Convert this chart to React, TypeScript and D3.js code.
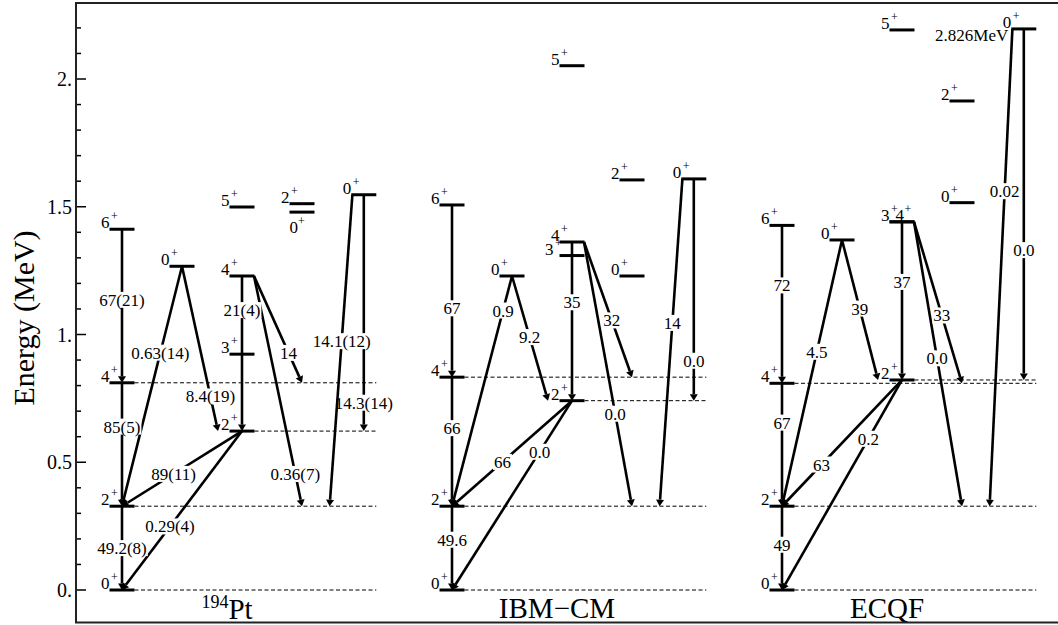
import React from 'react';
import * as d3 from 'd3';

const W = 1058;
const H = 625;

// ---- axis ----
const yMajorTicks = [0, 0.5, 1, 1.5, 2];
const yMajorLabels = ['0.', '0.5', '1.', '1.5', '2.'];
const yMinorTicks = [0.1, 0.2, 0.3, 0.4, 0.6, 0.7, 0.8, 0.9, 1.1, 1.2, 1.3, 1.4, 1.6, 1.7, 1.8, 1.9, 2.1, 2.2];
const yCap = 2.196; // off-scale levels are drawn here

// ---- levels (same structure in each panel) ----
const levelKeys = ['g0', 'g2', 'g4', 'g6', 'b0', 'c2', 'c3', 'c4', 'c5', 'd2', 'd0', 'e0'];
const levelSpins = ['0', '2', '4', '6', '0', '2', '3', '4', '5', '2', '0', '0'];
const levelCols = [0, 0, 0, 0, 1, 2, 2, 2, 2, 3, 3, 4.03];

const panelNames = ['194Pt', 'IBM−CM', 'ECQF'];
const expEnergies = [0, 0.328, 0.811, 1.412, 1.267, 0.622, 0.923, 1.229, 1.499, 1.512, 1.479, 1.547];
const ibmEnergies = [0, 0.328, 0.833, 1.507, 1.229, 0.741, 1.309, 1.362, 2.052, 1.605, 1.229, 1.609];
const ecqfEnergies = [0, 0.328, 0.809, 1.427, 1.37, 0.822, 1.441, 1.441, 2.192, 1.914, 1.516, 2.826];
const panelEnergies = [expEnergies, ibmEnergies, ecqfEnergies];

// label placement variants per panel (default 'left')
const expLabelVariant: Record<string, string> = { d0: 'below' };
const ibmLabelVariant: Record<string, string> = { c3: 'shift' };
const ecqfLabelVariant: Record<string, string> = { c4: 'after' };
const panelLabelVariants = [expLabelVariant, ibmLabelVariant, ecqfLabelVariant];

// ---- transitions ----
const trFrom = ['g6', 'g4', 'g2', 'b0', 'b0', 'c2', 'c2', 'c4', 'c4', 'c4', 'e0', 'e0'];
const trTo = ['g4', 'g2', 'g0', 'g2', 'c2', 'g2', 'g0', 'c2', 'g4', 'g2', 'g2', 'c2'];
const trX1 = [0, 0, 0, 1, 1, 2, 2, 2, 2.2, 2.2, 3.84, 4.03];
const trX2 = [0, 0, 0, 0, 1.6, 0, 0, 2, 3, 3, 3.46, 4.03];

const expB = ['67(21)', '85(5)', '49.2(8)', '0.63(14)', '8.4(19)', '89(11)', '0.29(4)', '21(4)', '14', '0.36(7)', '14.1(12)', '14.3(14)'];
const ibmB = ['67', '66', '49.6', '0.9', '9.2', '66', '0.0', '35', '32', '0.0', '14', '0.0'];
const ecqfB = ['72', '67', '49', '4.5', '39', '63', '0.2', '37', '33', '0.0', '0.02', '0.0'];
const panelB = [expB, ibmB, ecqfB];

const expT = [0.46, 0.355, 0.5, 0.36, 0.79, 0.57, 0.6, 0.22, 0.72, 0.86, 0.47, 0.88];
const ibmT = [0.6, 0.395, 0.4, 0.15, 0.49, 0.58, 0.27, 0.38, 0.58, 0.65, 0.44, 0.82];
const ecqfT = [0.38, 0.32, 0.46, 0.42, 0.49, 0.67, 0.28, 0.38, 0.58, 0.48, 0.34, 0.63];
const panelT = [expT, ibmT, ecqfT];

// dashed guide lines: level key and column where they start
const guideKeys = ['g0', 'g2', 'g4', 'c2'];
const guideStartCols = [0, 0, 0, 2];

// ---- scales ----
const y = d3.scaleLinear().domain([0, 2]).range([590, 79]);
const PANEL_COLS = 5.5;
const x = d3.scaleLinear().domain([0, 1]).range([122, 182]);
const px = (p: number, c: number) => x(p * PANEL_COLS + c);
const ey = (e: number) => y(Math.min(e, yCap));

const FONT = '"Liberation Serif", "Times New Roman", serif';
const HALF = 12.5;

function textWidth(s: string, fs: number) {
  let w = 0;
  for (const ch of s) {
    if (ch === '.') w += 0.25;
    else if (ch === '(' || ch === ')') w += 0.333;
    else w += 0.5;
  }
  return w * fs;
}

function SpinLabel({ xl, yl, spin, variant }: { xl: number; yl: number; spin: string; variant?: string }) {
  let tx = xl, ty = yl - 1, anchor = 'end', px2 = xl + 1.5, py2 = yl - 9;
  if (variant === 'below') {
    tx = xl; ty = yl + 21; anchor = 'start'; px2 = xl + 8.5; py2 = yl + 13;
  } else if (variant === 'after') {
    tx = xl + 6; ty = yl - 1; anchor = 'start'; px2 = xl + 15; py2 = yl - 9;
  } else if (variant === 'shift') {
    tx = xl - 6; px2 = xl - 4.5;
  }
  return (
    <g fontFamily={FONT}>
      <text x={tx} y={ty} fontSize={17} textAnchor={anchor}>{spin}</text>
      <text x={px2} y={py2} fontSize={12}>+</text>
    </g>
  );
}

function Arrow({ x1, y1, x2, y2 }: { x1: number; y1: number; x2: number; y2: number }) {
  const a = Math.atan2(y2 - y1, x2 - x1);
  const L = 6.5, Wd = 4;
  const bx = x2 - L * Math.cos(a), by = y2 - L * Math.sin(a);
  const nx = -Math.sin(a), ny = Math.cos(a);
  const d = `M${x2},${y2}L${bx + nx * Wd},${by + ny * Wd}L${bx - nx * Wd},${by - ny * Wd}Z`;
  return (
    <g>
      <line x1={x1} y1={y1} x2={bx} y2={by} stroke="#000" strokeWidth={2.6} />
      <path d={d} fill="#000" />
    </g>
  );
}

function Panel({ p }: { p: number }) {
  const E = panelEnergies[p];
  const idx = (k: string) => levelKeys.indexOf(k);
  const variants = panelLabelVariants[p];
  const order = trFrom.map((_, i) => i).reverse();
  return (
    <g>
      {/* dashed guides */}
      {guideKeys.map((k, i) => {
        const yy = ey(E[idx(k)]);
        return (
          <line key={'g' + i} x1={px(p, guideStartCols[i]) + HALF} x2={px(p, 4.03) + HALF} y1={yy} y2={yy}
            stroke="#000" strokeWidth={1} strokeDasharray="4,2.5" />
        );
      })}
      {/* levels */}
      {levelKeys.map((k, i) => {
        const xc = px(p, levelCols[i]);
        const yy = ey(E[i]);
        return (
          <g key={'l' + k}>
            <line x1={xc - HALF} x2={xc + HALF} y1={yy} y2={yy} stroke="#000" strokeWidth={3} />
            <SpinLabel xl={xc - HALF} yl={yy} spin={levelSpins[i]} variant={variants[k]} />
          </g>
        );
      })}
      {E[idx('e0')] > yCap && (
        <text x={px(p, 4.03) - HALF - 3} y={ey(E[idx('e0')]) + 12} fontSize={17} fontFamily={FONT} textAnchor="end">
          {E[idx('e0')].toFixed(3)}MeV
        </text>
      )}
      {/* transitions */}
      {order.map((i) => {
        const x1 = px(p, trX1[i]);
        const x2 = px(p, trX2[i]);
        const y1 = ey(E[idx(trFrom[i])]);
        const y2 = ey(E[idx(trTo[i])]);
        const t = panelT[p][i];
        const lx = x1 + (x2 - x1) * t;
        const ly = y1 + (y2 - y1) * t;
        const s = panelB[p][i];
        const w = textWidth(s, 17);
        return (
          <g key={'t' + i}>
            <Arrow x1={x1} y1={y1} x2={x2} y2={y2} />
            <rect x={lx - w / 2 - 1} y={ly - 8} width={w + 2} height={16} fill="#fff" />
            <text x={lx} y={ly + 6} fontSize={17} fontFamily={FONT} textAnchor="middle">{s}</text>
          </g>
        );
      })}
    </g>
  );
}

export default function App() {
  const titleX = (p: number) => px(p, 0) + 105;
  return (
    <svg width={W} height={H} style={{ position: 'absolute', left: 0, top: 0, background: '#fff' }}>
      <rect x={0} y={0} width={W} height={H} fill="#fff" />
      {/* ticks */}
      {yMajorTicks.map((v, i) => (
        <g key={'M' + i}>
          <line x1={76} x2={86} y1={y(v)} y2={y(v)} stroke="#000" strokeWidth={1.5} />
          <text x={72} y={y(v) + 7} fontSize={20} fontFamily={FONT} textAnchor="end">{yMajorLabels[i]}</text>
        </g>
      ))}
      {yMinorTicks.map((v, i) => (
        <line key={'m' + i} x1={76} x2={81} y1={y(v)} y2={y(v)} stroke="#000" strokeWidth={1.5} />
      ))}
      <text transform="translate(34,318) rotate(-90)" fontSize={30} fontFamily={FONT} textAnchor="middle">Energy (MeV)</text>

      {[0, 1, 2].map((p) => <Panel key={p} p={p} />)}

      {/* titles */}
      <text x={titleX(0)} y={619} fontFamily={FONT} textAnchor="middle">
        <tspan fontSize={18} dy={-11}>194</tspan>
        <tspan fontSize={29} dy={11}>Pt</tspan>
      </text>
      <text x={titleX(1)} y={618} fontFamily={FONT} fontSize={29} textAnchor="middle">{panelNames[1]}</text>
      <text x={titleX(2)} y={618} fontFamily={FONT} fontSize={29} textAnchor="middle">{panelNames[2]}</text>

      <rect x={76} y={3} width={1000} height={619.5} fill="none" stroke="#222" strokeWidth={2} />
    </svg>
  );
}
